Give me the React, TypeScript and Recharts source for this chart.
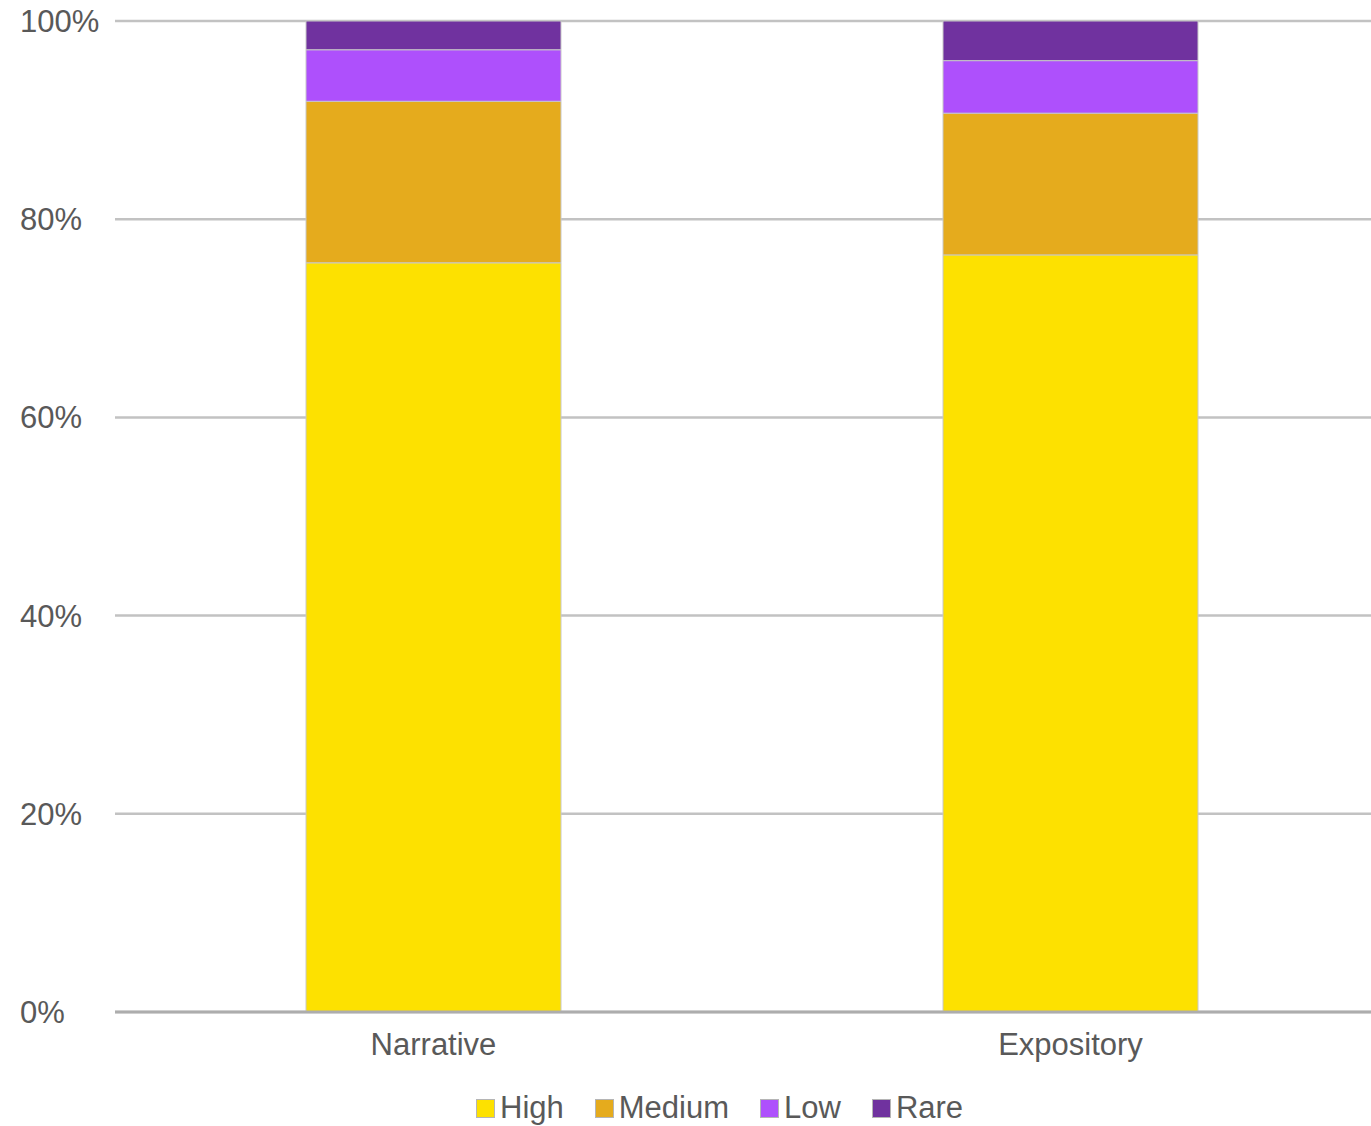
import { BarChart, Bar, XAxis, YAxis, CartesianGrid, Legend } from "recharts";

const categories = ["Narrative", "Expository"];
const high = [75.6, 76.4];
const medium = [16.3, 14.3];
const low = [5.2, 5.3];
const rare = [2.9, 4.0];
const yTicks = [0, 20, 40, 60, 80, 100];

const SERIES = [
  { key: "High", values: high, color: "#FDE100" },
  { key: "Medium", values: medium, color: "#E5AB1D" },
  { key: "Low", values: low, color: "#AE50FC" },
  { key: "Rare", values: rare, color: "#70329F" },
];

const data = categories.map((name, i) => {
  const row: Record<string, string | number> = { name };
  SERIES.forEach((s) => {
    row[s.key] = s.values[i];
  });
  return row;
});

const FONT = "'Liberation Sans', Arial, sans-serif";
const TEXT = "#595959";

function YTick({ x, y, payload }: any) {
  return (
    <text x={20} y={y} dy="0.355em" textAnchor="start" fill={TEXT} fontSize={31} fontFamily={FONT}>
      {`${payload.value}%`}
    </text>
  );
}

function LegendBox() {
  return (
    <div
      style={{
        height: 50,
        display: "flex",
        alignItems: "center",
        paddingLeft: 476,
        paddingTop: 14,
        boxSizing: "border-box",
        fontFamily: FONT,
        fontSize: 31,
        color: TEXT,
      }}
    >
      {SERIES.map((s) => (
        <div key={s.key} style={{ display: "flex", alignItems: "center", marginRight: 31 }}>
          <span
            style={{
              width: 17,
              height: 17,
              background: s.color,
              border: "1px solid #b5b5b5",
              marginRight: 5,
              display: "inline-block",
            }}
          />
          <span>{s.key}</span>
        </div>
      ))}
    </div>
  );
}

export default function App() {
  return (
    <div
      style={{
        position: "absolute",
        top: 0,
        left: 0,
        width: 1371,
        height: 1126,
        overflow: "hidden",
        background: "#fff",
      }}
    >
      <BarChart
        width={1400}
        height={1126}
        data={data}
        barSize={255}
        margin={{ top: 21, right: 11, left: 0, bottom: 0 }}
      >
        <CartesianGrid vertical={false} stroke="#c2c2c2" strokeWidth={2.5} />
        <XAxis
          dataKey="name"
          height={64}
          tickSize={0}
          tickMargin={21}
          axisLine={{ stroke: "#adadad", strokeWidth: 3 }}
          tick={{ fill: TEXT, fontSize: 31, fontFamily: FONT }}
        />
        <YAxis
          width={115}
          domain={[0, 100]}
          ticks={yTicks}
          axisLine={false}
          tickLine={false}
          tick={<YTick />}
        />
        <Legend verticalAlign="bottom" content={<LegendBox />} />
        {SERIES.map((s) => (
          <Bar
            key={s.key}
            dataKey={s.key}
            stackId="a"
            fill={s.color}
            stroke="#c8c8c8"
            strokeWidth={1}
            isAnimationActive={false}
          />
        ))}
      </BarChart>
    </div>
  );
}
